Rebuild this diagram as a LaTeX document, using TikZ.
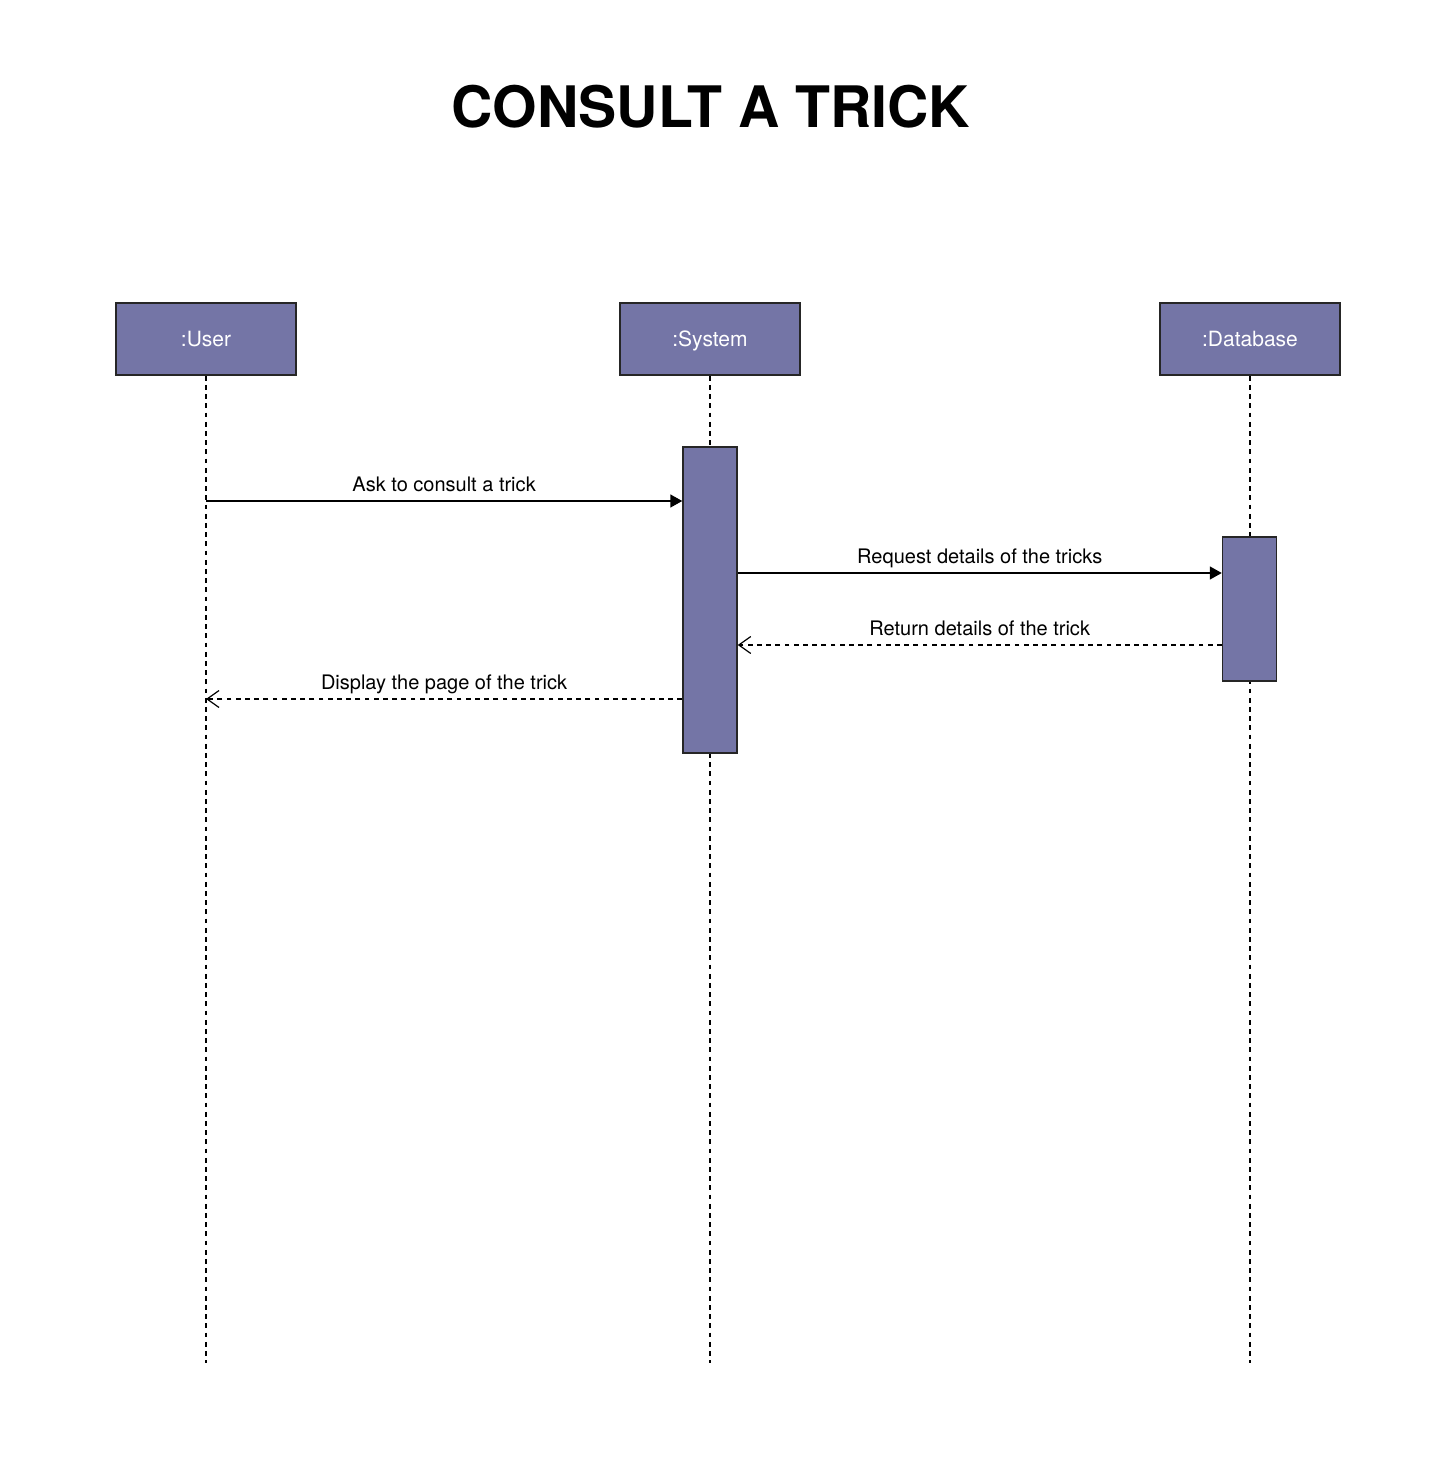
\documentclass[tikz,border=0pt]{standalone}
\usepackage{fontspec}
\setmainfont{TeX Gyre Heros}
\usetikzlibrary{arrows.meta}
\definecolor{actfill}{RGB}{116,117,166}
\tikzset{
  obj/.style={draw=black!85, line width=0.75pt, fill=actfill, minimum width=90pt, minimum height=36pt, inner sep=0pt, text=white, font=\fontsize{10.5}{12}\selectfont, text height=7.6pt, text depth=0pt},
  actbar/.style={draw=black!85, line width=0.75pt, fill=actfill, minimum width=27pt, inner sep=0pt},
  life/.style={line width=0.8pt, dash pattern=on 2.4pt off 2.2pt},
  call/.style={line width=0.8pt, -{Triangle[length=6pt,width=6.5pt]}},
  reply/.style={line width=0.8pt, dash pattern=on 2.4pt off 2.2pt, -{Straight Barb[length=6pt,width=8.5pt,line width=0.6pt]}},
  lbl/.style={font=\fontsize{10}{12}\selectfont, inner sep=0pt, anchor=base, yshift=4.7pt}
}
\begin{document}
\begin{tikzpicture}[x=0.5pt,y=-0.5pt]
\useasboundingbox (0,0) rectangle (1448,1482);
\node[font=\fontsize{28.6}{34}\selectfont\bfseries, anchor=base, inner sep=0pt] (title) at (711,128) {CONSULT A TRICK};
% objects
\node[obj] (user) at (206,339) {:User};
\node[obj] (sys) at (710,339) {:System};
\node[obj] (db) at (1250,339) {:Database};
% lifeline ends
\coordinate (ue) at (206,1363);
\coordinate (se) at (710,1363);
\coordinate (de) at (1250,1363);
\draw[life] (user.south) -- (ue);
\draw[life] (sys.south) -- (se);
\draw[life] (db.south) -- (de);
% activations
\node[actbar, minimum height=153pt] (sa) at (710,600) {};
\node[actbar, minimum height=72pt] (da) at (1249.5,609) {};
% messages
\coordinate (m1) at (206,501);
\coordinate (m2) at (737,573);
\coordinate (m3) at (1222,645);
\coordinate (m4) at (683,699);
\draw[call] (m1) -- (m1 -| sa.west) node[lbl, midway] {Ask to consult a trick};
\draw[call] (m2 -| sa.east) -- (m2 -| da.west) node[lbl, midway] {Request details of the tricks};
\draw[reply] (m3 -| da.west) -- (m3 -| sa.east) node[lbl, midway] {Return details of the trick};
\draw[reply] (m4 -| sa.west) -- (m4 -| user.south) node[lbl, midway] {Display the page of the trick};
\end{tikzpicture}
\end{document}
